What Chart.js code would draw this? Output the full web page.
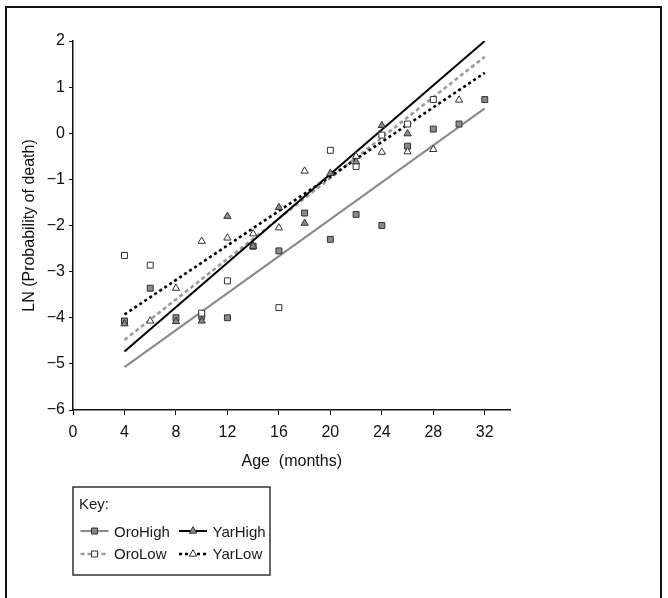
<!DOCTYPE html>
<html>
<head>
<meta charset="utf-8">
<script src="https://cdn.jsdelivr.net/npm/chart.js@4.4.1/dist/chart.umd.min.js"></script>
<style>
body { margin: 0; background: #fff; overflow: hidden; }
#wrap { position: relative; width: 668px; height: 598px; }
#frame { position: absolute; left: 5px; top: 6px; width: 657px; height: 700px; border: 2px solid #111; border-bottom: none; box-sizing: border-box; }
canvas { position: absolute; left: 0; top: 0; }
</style>
</head>
<body>
<div id="wrap">
  <div id="frame"></div>
  <canvas id="chart" width="668" height="598"></canvas>
</div>
<script>
// observed points, LN(probability of death) by age in months
const ageOroHigh = [4, 6, 8, 10, 12, 14, 16, 18, 20, 22, 24, 26, 28, 30, 32];
const lnOroHigh = [-4.07, -3.36, -4.0, -3.97, -4.0, -2.45, -2.55, -1.73, -2.3, -1.76, -2.0, -0.28, 0.09, 0.2, 0.73];

const ageOroLow = [4, 6, 10, 12, 16, 20, 22, 24, 26, 28];
const lnOroLow = [-2.65, -2.86, -3.9, -3.2, -3.78, -0.37, -0.72, -0.04, 0.2, 0.73];

const ageYarHigh = [4, 8, 10, 12, 14, 16, 18, 20, 22, 24, 26];
const lnYarHigh = [-4.13, -4.08, -4.07, -1.8, -2.45, -1.61, -1.95, -0.87, -0.62, 0.17, -0.01];

const ageYarLow = [6, 8, 10, 12, 14, 16, 18, 22, 24, 26, 28, 30];
const lnYarLow = [-4.07, -3.36, -2.34, -2.27, -2.18, -2.05, -0.82, -0.5, -0.41, -0.4, -0.35, 0.72];

// fitted lines (ends at age 4 and 32)
const fitAges = [4, 32];
const fitOroHigh = [-5.07, 0.54];
const fitOroLow = [-4.48, 1.66];
const fitYarHigh = [-4.73, 2.0];
const fitYarLow = [-3.93, 1.31];

const xTicks = [0, 4, 8, 12, 16, 20, 24, 28, 32];

const FONT = '"Liberation Sans", Arial, sans-serif';
const GREY_FILL = '#8a8a8a';
const MARK_EDGE = '#333';

function toPoints(xs, ys) {
    return xs.map((x, i) => ({ x: x, y: ys[i] }));
}

const series = [
    { name: 'OroHigh', ages: ageOroHigh, vals: lnOroHigh, fit: fitOroHigh, line: '#8c8c8c', width: 2.2, dash: [], marker: 'rect', fill: GREY_FILL },
    { name: 'OroLow', ages: ageOroLow, vals: lnOroLow, fit: fitOroLow, line: '#9a9a9a', width: 2.6, dash: [4, 3], marker: 'rect', fill: '#fff' },
    { name: 'YarHigh', ages: ageYarHigh, vals: lnYarHigh, fit: fitYarHigh, line: '#000', width: 2.0, dash: [], marker: 'triangle', fill: GREY_FILL },
    { name: 'YarLow', ages: ageYarLow, vals: lnYarLow, fit: fitYarLow, line: '#000', width: 2.6, dash: [3, 3], marker: 'triangle', fill: '#fff' },
];

const datasets = [];
series.forEach((s, i) => {
    datasets.push({
        label: s.name + ' fit',
        data: toPoints(fitAges, s.fit),
        showLine: true,
        borderColor: s.line,
        borderWidth: s.width,
        borderDash: s.dash,
        pointRadius: 0,
        order: 10 - i,
    });
});
series.forEach((s, i) => {
    datasets.push({
        label: s.name,
        data: toPoints(s.ages, s.vals),
        showLine: false,
        pointStyle: s.marker,
        pointRadius: 4.2,
        backgroundColor: s.fill,
        borderColor: MARK_EDGE,
        borderWidth: 1,
        order: 5 - i,
    });
});

function drawMarker(ctx, type, x, y, fill) {
    ctx.save();
    ctx.setLineDash([]);
    ctx.fillStyle = fill;
    ctx.strokeStyle = MARK_EDGE;
    ctx.lineWidth = 1;
    ctx.beginPath();
    if (type === 'rect') {
        ctx.rect(x - 3, y - 3, 6, 6);
    } else {
        ctx.moveTo(x, y - 4.3);
        ctx.lineTo(x + 3.7, y + 2.2);
        ctx.lineTo(x - 3.7, y + 2.2);
        ctx.closePath();
    }
    ctx.fill();
    ctx.stroke();
    ctx.restore();
}

// the "Key:" box under the chart
const keyBox = {
    id: 'keyBox',
    afterDraw(chart) {
        const ctx = chart.ctx;
        ctx.save();
        ctx.strokeStyle = '#333';
        ctx.lineWidth = 1.5;
        ctx.strokeRect(73, 487, 197, 88);

        ctx.fillStyle = '#1a1a1a';
        ctx.font = '15px ' + FONT;
        ctx.textBaseline = 'alphabetic';
        ctx.textAlign = 'left';
        ctx.fillText('Key:', 79, 509);

        const cols = [{ x0: 80.5, x1: 108.5 }, { x0: 179, x1: 207 }];
        const rows = [{ y: 531, base: 536.5 }, { y: 554, base: 559.3 }];
        series.forEach((s, i) => {
            const col = cols[i < 2 ? 0 : 1];
            const row = rows[i % 2];
            ctx.save();
            ctx.strokeStyle = s.line;
            ctx.lineWidth = s.width;
            ctx.setLineDash(s.dash);
            ctx.beginPath();
            ctx.moveTo(col.x0, row.y);
            ctx.lineTo(col.x1, row.y);
            ctx.stroke();
            ctx.restore();
            drawMarker(ctx, s.marker, (col.x0 + col.x1) / 2, row.y, s.fill);
            ctx.fillStyle = '#1a1a1a';
            ctx.fillText(s.name, col.x1 + 5.5, row.base);
        });
        ctx.restore();
    }
};

new Chart(document.getElementById('chart'), {
    type: 'scatter',
    data: { datasets: datasets },
    plugins: [keyBox],
    options: {
        responsive: false,
        animation: false,
        devicePixelRatio: 1,
        layout: { padding: { left: 0, top: 41, right: 157.5, bottom: 127 } },
        plugins: { legend: { display: false }, tooltip: { enabled: false } },
        scales: {
            x: {
                type: 'linear',
                min: 0,
                max: 34,
                afterBuildTicks: scale => {
                    scale.ticks = xTicks.map(v => ({ value: v }));
                },
                afterFit: scale => { scale.height = 61; },
                ticks: { color: '#111', font: { family: FONT, size: 16 }, padding: 8, maxRotation: 0 },
                grid: { display: true, drawOnChartArea: false, drawTicks: true, tickLength: 5, color: '#111' },
                border: { display: true, color: '#111', width: 1.5 },
                title: { display: true, text: 'Age  (months)', color: '#111', font: { family: FONT, size: 16 }, padding: { top: 0, bottom: 0 } },
            },
            y: {
                type: 'linear',
                min: -6,
                max: 2,
                afterFit: scale => { scale.width = 73; },
                ticks: {
                    stepSize: 1,
                    color: '#111',
                    font: { family: FONT, size: 16 },
                    padding: 4,
                    callback: v => (v < 0 ? '\u2212' + Math.abs(v) : String(v)),
                },
                grid: { display: true, drawOnChartArea: false, drawTicks: true, tickLength: 4, color: '#111' },
                border: { display: true, color: '#111', width: 1.5 },
                title: { display: true, text: 'LN (Probability of death)', color: '#111', font: { family: FONT, size: 16 }, padding: { top: 20, bottom: 0 } },
            },
        },
    },
});
</script>
</body>
</html>
